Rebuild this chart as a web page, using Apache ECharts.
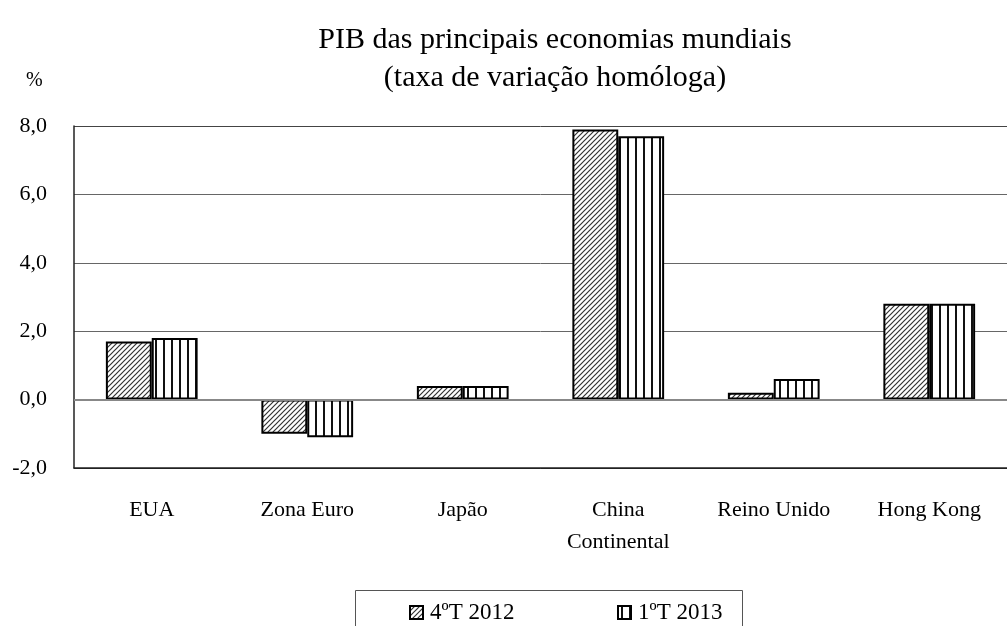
<!DOCTYPE html>
<html>
<head>
<meta charset="utf-8">
<script src="https://cdn.jsdelivr.net/npm/echarts@6/dist/echarts.min.js"></script>
<style>
  html, body { margin: 0; padding: 0; background: #fff; }
  #chart { width: 1007px; height: 626px; }
</style>
</head>
<body>
<div id="chart"></div>
<script>
// dados do gráfico
var categorias = ['EUA', 'Zona Euro', 'Japão', 'China\nContinental', 'Reino Unido', 'Hong Kong']
var serie4T2012 = [1.7, -1.0, 0.4, 7.9, 0.2, 2.8]
var serie1T2013 = [1.8, -1.1, 0.4, 7.7, 0.6, 2.8]
var nomesSeries = ['4ºT 2012', '1ºT 2013']

var fonte = '"Liberation Serif", "Times New Roman", serif'

// padrão tracejado diagonal
function padraoDiagonal () {
  var c = document.createElement('canvas')
  c.width = 5
  c.height = 5
  var ctx = c.getContext('2d')
  ctx.fillStyle = '#fff'
  ctx.fillRect(0, 0, 5, 5)
  ctx.strokeStyle = '#333'
  ctx.lineWidth = 1.2
  ctx.beginPath()
  ctx.moveTo(-1, 6); ctx.lineTo(6, -1)
  ctx.moveTo(-1, 1); ctx.lineTo(1, -1)
  ctx.moveTo(4, 6); ctx.lineTo(6, 4)
  ctx.stroke()
  return c
}

// padrão de riscas verticais
function padraoVertical () {
  var c = document.createElement('canvas')
  c.width = 8
  c.height = 8
  var ctx = c.getContext('2d')
  ctx.fillStyle = '#fff'
  ctx.fillRect(0, 0, 8, 8)
  ctx.fillStyle = '#111'
  ctx.fillRect(3, 0, 2, 8)
  return c
}

var chart = echarts.init(document.getElementById('chart'))

chart.setOption({
  animation: false,
  title: {
    text: 'PIB das principais economias mundiais\n(taxa de variação homóloga)',
    left: 550,
    top: 16,
    textAlign: 'center',
    textStyle: {
      fontFamily: fonte,
      fontSize: 30,
      fontWeight: 'normal',
      color: '#000',
      lineHeight: 38
    }
  },
  graphic: [
    {
      type: 'text',
      left: 26,
      top: 71,
      style: { text: '%', font: '20px ' + fonte, fill: '#000' }
    },
    {
      type: 'rect',
      left: 353,
      top: 588,
      shape: { width: 387, height: 60 },
      style: { fill: 'none', stroke: '#555', lineWidth: 1 }
    }
  ],
  legend: [
    {
      data: [nomesSeries[0]],
      icon: 'rect',
      left: 404,
      top: 596,
      itemWidth: 13,
      itemHeight: 13,
      textStyle: { fontFamily: fonte, fontSize: 23, color: '#000', padding: [0, 0, 0, 2] }
    },
    {
      data: [nomesSeries[1]],
      icon: 'rect',
      left: 612,
      top: 596,
      itemWidth: 13,
      itemHeight: 13,
      textStyle: { fontFamily: fonte, fontSize: 23, color: '#000', padding: [0, 0, 0, 2] }
    }
  ],
  grid: {
    left: 74,
    right: -12,
    top: 126,
    bottom: 158
  },
  xAxis: {
    type: 'category',
    data: categorias,
    axisLine: { onZero: false, lineStyle: { color: '#222', width: 1.5 } },
    axisTick: { show: false },
    axisLabel: {
      interval: 0,
      margin: 26,
      fontFamily: fonte,
      fontSize: 22,
      lineHeight: 32,
      color: '#000'
    }
  },
  yAxis: {
    type: 'value',
    min: -2,
    max: 8,
    interval: 2,
    axisLine: { show: true, lineStyle: { color: '#222', width: 1.5 } },
    axisTick: { show: false },
    axisLabel: {
      margin: 27,
      fontFamily: fonte,
      fontSize: 22,
      color: '#000',
      formatter: function (v) { return v.toFixed(1).replace('.', ',') }
    },
    splitLine: {
      lineStyle: { color: ['#222', '#888', '#666', '#666', '#666', '#444'], width: 1 }
    }
  },
  series: [
    {
      name: nomesSeries[0],
      type: 'bar',
      barGap: '0%',
      barCategoryGap: '41%',
      data: serie4T2012,
      itemStyle: {
        color: { image: padraoDiagonal(), repeat: 'repeat' },
        borderColor: '#000',
        borderWidth: 2
      },
      markLine: {
        silent: true,
        symbol: 'none',
        label: { show: false },
        lineStyle: { color: '#888', width: 2, type: 'solid' },
        data: [{ yAxis: 0 }]
      },
      z: 3
    },
    {
      name: nomesSeries[1],
      type: 'bar',
      barGap: '0%',
      barCategoryGap: '41%',
      data: serie1T2013,
      itemStyle: {
        color: { image: padraoVertical(), repeat: 'repeat' },
        borderColor: '#000',
        borderWidth: 2
      },
      z: 3
    }
  ]
})
</script>
</body>
</html>
